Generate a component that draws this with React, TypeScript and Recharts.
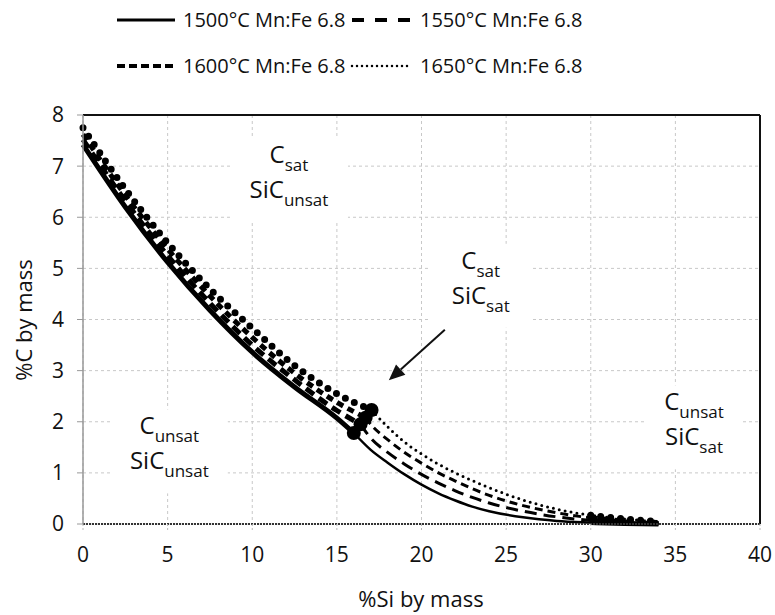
import React from 'react';
import { LineChart, Line, XAxis, YAxis, CartesianGrid, ReferenceLine, ReferenceDot } from 'recharts';

const FONT = '"Open Sans", sans-serif';

// Carbon-saturated boundary (%Si, %C) for each temperature
const si1500Sat = [0, 2.5, 5, 7.5, 10, 12.5, 15, 16];
const c1500Sat = [7.42, 6.2, 5.12, 4.18, 3.36, 2.68, 2.07, 1.78];
const si1550Sat = [0, 2.5, 5, 7.5, 10, 12.5, 15, 16.4];
const c1550Sat = [7.52, 6.32, 5.25, 4.32, 3.5, 2.82, 2.22, 1.95];
const si1600Sat = [0, 2.5, 5, 7.5, 10, 12.5, 15, 16.7];
const c1600Sat = [7.62, 6.43, 5.38, 4.46, 3.65, 2.95, 2.38, 2.08];
const si1650Sat = [0, 2.5, 5, 7.5, 10, 12.5, 15, 17.05];
const c1650Sat = [7.75, 6.55, 5.5, 4.6, 3.83, 3.1, 2.55, 2.23];

// SiC-saturated boundary, from the triple point down to ~34 %Si
const si1500Unsat = [16, 17, 18, 19, 20, 21, 22, 23, 24, 26, 28, 30, 32, 34];
const c1500Unsat = [1.78, 1.45, 1.2, 0.97, 0.77, 0.6, 0.46, 0.34, 0.25, 0.13, 0.06, 0.03, 0.01, 0];
const si1550Unsat = [16.4, 17, 18, 19, 20, 21, 22, 23, 24, 26, 28, 30, 32, 34];
const c1550Unsat = [1.95, 1.68, 1.4, 1.17, 0.97, 0.8, 0.65, 0.52, 0.41, 0.25, 0.14, 0.07, 0.03, 0.01];
const si1600Unsat = [16.7, 17, 18, 19, 20, 21, 22, 23, 24, 26, 28, 30, 32, 34];
const c1600Unsat = [2.08, 1.95, 1.65, 1.4, 1.19, 1.0, 0.84, 0.69, 0.56, 0.36, 0.22, 0.12, 0.06, 0.03];
const si1650Unsat = [17.05, 18, 19, 20, 21, 22, 23, 24, 26, 28, 30, 32, 34];
const c1650Unsat = [2.23, 1.9, 1.6, 1.37, 1.17, 1.0, 0.85, 0.71, 0.47, 0.29, 0.17, 0.1, 0.05];

const xTicks = [0, 5, 10, 15, 20, 25, 30, 35, 40];
const yTicks = [0, 1, 2, 3, 4, 5, 6, 7, 8];

const pts = (si: number[], c: number[]) => si.map((s, i) => ({ si: s, c: c[i] }));

const series = [
  { name: '1500°C Mn:Fe 6.8', sat: pts(si1500Sat, c1500Sat), unsat: pts(si1500Unsat, c1500Unsat),
    thick: { w: 5, dash: undefined, cap: 'butt' }, thin: { w: 2.5, dash: undefined, cap: 'butt' } },
  { name: '1550°C Mn:Fe 6.8', sat: pts(si1550Sat, c1550Sat), unsat: pts(si1550Unsat, c1550Unsat),
    thick: { w: 5, dash: '10 6', cap: 'butt' }, thin: { w: 3, dash: '12 7', cap: 'butt' } },
  { name: '1600°C Mn:Fe 6.8', sat: pts(si1600Sat, c1600Sat), unsat: pts(si1600Unsat, c1600Unsat),
    thick: { w: 5, dash: '7 5', cap: 'butt' }, thin: { w: 3, dash: '8 5', cap: 'butt' } },
  { name: '1650°C Mn:Fe 6.8', sat: pts(si1650Sat, c1650Sat), unsat: pts(si1650Unsat, c1650Unsat),
    thick: { w: 7, dash: '0 10', cap: 'round' }, thin: { w: 3, dash: '0 6', cap: 'round' } },
];

// phase-field captions: [main, subscript] per line
const regions = [
  { si: 12.17, c: 6.73, w: 118, lines: [['C', 'sat'], ['SiC', 'unsat']] },
  { si: 23.5, c: 4.66, w: 100, lines: [['C', 'sat'], ['SiC', 'sat']] },
  { si: 5.1, c: 1.42, w: 117, lines: [['C', 'unsat'], ['SiC', 'unsat']] },
  { si: 36.1, c: 1.89, w: 96, lines: [['C', 'unsat'], ['SiC', 'sat']] },
];

const arrowSi = [21.38, 18.07];
const arrowC = [3.8, 2.81];

const RegionLabel = (lines: string[][], w: number) => (props: any) => {
  const { cx, cy } = props;
  return (
    <g>
      <rect x={cx - w / 2} y={cy - 42} width={w} height={84} fill="#fff" />
      {lines.map((ln, i) => (
        <text key={i} x={cx} y={cy - 17 + i * 35} textAnchor="middle" fontFamily={FONT} fontSize={24} fill="#111">
          <tspan>{ln[0]}</tspan>
          <tspan dy={8} fontSize={17}>{ln[1]}</tspan>
        </text>
      ))}
    </g>
  );
};

const Arrow = (props: any) => {
  const { x1, y1, x2, y2 } = props;
  const a = Math.atan2(y2 - y1, x2 - x1);
  const len = 16;
  const half = 7;
  const bx = x2 - len * Math.cos(a);
  const by = y2 - len * Math.sin(a);
  const p1 = `${bx + half * Math.sin(a)},${by - half * Math.cos(a)}`;
  const p2 = `${bx - half * Math.sin(a)},${by + half * Math.cos(a)}`;
  return (
    <g>
      <line x1={x1} y1={y1} x2={bx} y2={by} stroke="#111" strokeWidth={2} />
      <polygon points={`${x2},${y2} ${p1} ${p2}`} fill="#111" />
    </g>
  );
};

const LegendSample = ({ x, y, dash, cap, w }: any) => (
  <line x1={x} y1={y} x2={x + 58} y2={y} stroke="#000" strokeWidth={w} strokeDasharray={dash} strokeLinecap={cap} />
);

export default function App() {
  return (
    <div style={{ position: 'absolute', left: 0, top: 0, width: 775, height: 615, background: '#fff' }}>
      <LineChart width={775} height={615} margin={{ top: 115, right: 15, left: 0, bottom: 31 }}>
        <CartesianGrid stroke="#c8c8c8" strokeDasharray="3 3" />
        <XAxis
          dataKey="si"
          type="number"
          domain={[0, 40]}
          ticks={xTicks}
          height={60}
          tickSize={6}
          tickMargin={17}
          axisLine={{ stroke: '#333', strokeWidth: 2, strokeDasharray: '2 1' }}
          tickLine={{ stroke: '#bbb', strokeDasharray: '2 2' }}
          tick={{ fontFamily: FONT, fontSize: 21, fill: '#111' }}
          allowDuplicatedCategory={false}
        />
        <YAxis
          dataKey="c"
          type="number"
          domain={[0, 8]}
          ticks={yTicks}
          width={83}
          tickSize={6}
          tickMargin={13}
          axisLine={{ stroke: '#999', strokeWidth: 1.5 }}
          tickLine={{ stroke: '#999' }}
          tick={{ fontFamily: FONT, fontSize: 21, fill: '#111' }}
        />
        <ReferenceLine y={8} stroke="#111" strokeWidth={2} />
        <ReferenceLine x={40} stroke="#111" strokeWidth={2} />
        {series.map((s) => (
          <Line
            key={s.name + '-unsat'}
            data={s.unsat}
            dataKey="c"
            type="monotone"
            stroke="#000"
            strokeWidth={s.thin.w}
            strokeDasharray={s.thin.dash}
            strokeLinecap={s.thin.cap as any}
            dot={false}
            activeDot={false}
            isAnimationActive={false}
          />
        ))}
        {series.map((s) => (
          <Line
            key={s.name + '-tail'}
            data={s.unsat.filter((p) => p.si >= 29)}
            dataKey="c"
            type="monotone"
            stroke="#000"
            strokeWidth={s.thick.w}
            strokeDasharray={s.thick.dash}
            strokeLinecap={s.thick.cap as any}
            dot={false}
            activeDot={false}
            isAnimationActive={false}
          />
        ))}
        {series.map((s) => (
          <Line
            key={s.name + '-sat'}
            data={s.sat}
            dataKey="c"
            type="monotone"
            stroke="#000"
            strokeWidth={s.thick.w}
            strokeDasharray={s.thick.dash}
            strokeLinecap={s.thick.cap as any}
            dot={false}
            activeDot={false}
            isAnimationActive={false}
          />
        ))}
        {series.map((s) => (
          <ReferenceDot key={s.name + '-tp'} x={s.unsat[0].si} y={s.unsat[0].c} r={7} fill="#000" stroke="none" />
        ))}
        {regions.map((r, i) => (
          <ReferenceDot key={'reg' + i} x={r.si} y={r.c} r={0} shape={RegionLabel(r.lines, r.w)} />
        ))}
        <ReferenceLine
          segment={[{ x: arrowSi[0], y: arrowC[0] }, { x: arrowSi[1], y: arrowC[1] }]}
          shape={Arrow}
        />
      </LineChart>
      <svg width={775} height={615} style={{ position: 'absolute', left: 0, top: 0, pointerEvents: 'none' }}>
        <g fontFamily={FONT} fontSize={20} fill="#111">
          <LegendSample x={117} y={20} w={3} />
          <text x={183} y={27}>{series[0].name}</text>
          <LegendSample x={352} y={20} w={4} dash="12 11" />
          <text x={420} y={27}>{series[1].name}</text>
          <LegendSample x={117} y={66} w={4} dash="8 4" />
          <text x={183} y={73}>{series[2].name}</text>
          <LegendSample x={352} y={66} w={2.5} dash="0 5" cap="round" />
          <text x={420} y={73}>{series[3].name}</text>
          <text x={421} y={607} textAnchor="middle" fontSize={22}>%Si by mass</text>
          <text x={0} y={0} textAnchor="middle" fontSize={22} transform="translate(32 320) rotate(-90)">%C by mass</text>
        </g>
      </svg>
    </div>
  );
}
